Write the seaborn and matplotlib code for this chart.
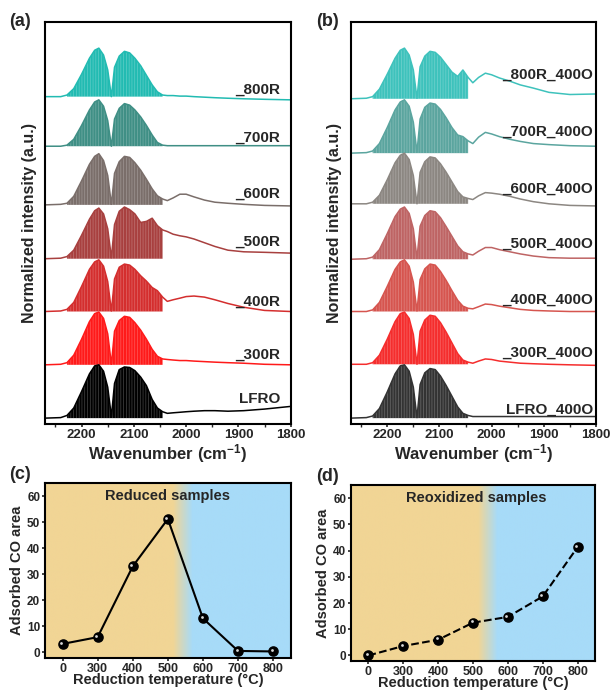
import numpy as np
import seaborn as sns
import matplotlib
matplotlib.use('Agg')
import matplotlib.pyplot as plt
from matplotlib.ticker import MultipleLocator
from matplotlib.transforms import offset_copy
from matplotlib.colors import to_rgb

sns.set_style('ticks')
plt.rcParams['font.family'] = ['Liberation Sans', 'DejaVu Sans']
plt.rcParams['font.weight'] = 'bold'
plt.rcParams['axes.labelweight'] = 'bold'
plt.rcParams['axes.linewidth'] = 1.5
plt.rcParams['axes.edgecolor'] = 'black'
plt.rcParams['mathtext.fontset'] = 'custom'
plt.rcParams['mathtext.bf'] = 'Liberation Sans:bold'
plt.rcParams['mathtext.default'] = 'bf'
plt.rcParams['hatch.linewidth'] = 0.5

# wavenumber grid (cm-1) shared by all spectra
wavenumber = [2270, 2240, 2228, 2215, 2200, 2185, 2175, 2167, 2158, 2150, 2143, 2137,
              2128, 2118, 2108, 2098, 2087, 2076, 2065, 2055, 2045, 2036, 2025, 2012,
              2000, 1985, 1965, 1945, 1920, 1890, 1850, 1800]

# (a) reduced samples, normalized intensity
lfro   = [-0.03, -0.02, 0.02, 0.16, 0.47, 0.80, 0.95, 0.97, 0.85, 0.55, 0.00, 0.62, 0.88, 0.93, 0.92, 0.86,
          0.74, 0.58, 0.32, 0.16, 0.09, 0.06, 0.07, 0.08, 0.09, 0.10, 0.11, 0.11, 0.10, 0.11, 0.14, 0.19]
r300   = [-0.03, -0.02, 0.01, 0.15, 0.45, 0.78, 0.93, 0.96, 0.84, 0.55, -0.02, 0.60, 0.80, 0.88, 0.86, 0.76,
          0.62, 0.45, 0.26, 0.13, 0.08, 0.07, 0.06, 0.05, 0.05, 0.04, 0.03, 0.02, 0.01, 0.00, -0.02, -0.03]
r400   = [-0.03, -0.02, 0.01, 0.14, 0.44, 0.76, 0.90, 0.94, 0.82, 0.53, -0.02, 0.58, 0.80, 0.86, 0.84, 0.76,
          0.64, 0.54, 0.42, 0.36, 0.24, 0.16, 0.19, 0.22, 0.25, 0.26, 0.24, 0.19, 0.12, 0.05, -0.01, -0.03]
r500   = [-0.04, -0.03, 0.00, 0.12, 0.40, 0.70, 0.86, 0.91, 0.80, 0.52, -0.02, 0.60, 0.85, 0.93, 0.88, 0.80,
          0.64, 0.66, 0.72, 0.58, 0.50, 0.47, 0.42, 0.39, 0.37, 0.33, 0.26, 0.19, 0.12, 0.09, 0.08, 0.065]
r600   = [-0.03, -0.02, 0.00, 0.13, 0.42, 0.73, 0.88, 0.93, 0.80, 0.52, -0.02, 0.56, 0.78, 0.88, 0.86, 0.76,
          0.62, 0.45, 0.27, 0.14, 0.08, 0.05, 0.10, 0.17, 0.17, 0.12, 0.06, 0.02, 0.00, -0.02, -0.04, -0.05]
r700   = [0.07, 0.07, 0.09, 0.20, 0.46, 0.75, 0.90, 0.94, 0.82, 0.55, 0.07, 0.58, 0.78, 0.87, 0.84, 0.75,
          0.62, 0.46, 0.28, 0.14, 0.09, 0.08, 0.08, 0.08, 0.08, 0.08, 0.08, 0.08, 0.08, 0.08, 0.08, 0.08]
r800   = [0.00, 0.00, 0.03, 0.15, 0.42, 0.72, 0.87, 0.91, 0.78, 0.50, 0.00, 0.55, 0.76, 0.85, 0.82, 0.72,
          0.58, 0.40, 0.22, 0.09, 0.03, 0.02, 0.02, 0.01, 0.01, 0.00, -0.01, -0.02, -0.03, -0.04, -0.05, -0.06]

# (b) reoxidized samples
lfro_o = [-0.03, -0.02, 0.01, 0.15, 0.46, 0.80, 0.95, 0.97, 0.85, 0.55, -0.02, 0.60, 0.82, 0.90, 0.88, 0.76,
          0.58, 0.38, 0.18, 0.06, 0.02, 0.00, 0.00, 0.00, 0.00, 0.00, 0.00, 0.00, 0.00, 0.00, 0.00, 0.00]
r300_o = [-0.02, -0.02, 0.01, 0.15, 0.45, 0.78, 0.93, 0.96, 0.84, 0.54, -0.02, 0.60, 0.81, 0.90, 0.88, 0.76,
          0.58, 0.38, 0.18, 0.06, 0.02, 0.00, 0.04, 0.08, 0.07, 0.04, 0.02, 0.00, -0.01, -0.02, -0.03, -0.04]
r400_o = [-0.03, -0.03, 0.00, 0.14, 0.44, 0.76, 0.90, 0.94, 0.82, 0.52, -0.02, 0.57, 0.77, 0.86, 0.84, 0.72,
          0.55, 0.36, 0.18, 0.07, 0.03, 0.02, 0.06, 0.11, 0.10, 0.07, 0.04, 0.01, -0.01, -0.02, -0.03, -0.03]
r500_o = [-0.05, -0.04, -0.01, 0.13, 0.43, 0.75, 0.89, 0.93, 0.81, 0.52, -0.03, 0.57, 0.77, 0.86, 0.84, 0.73,
          0.56, 0.38, 0.20, 0.09, 0.05, 0.03, 0.10, 0.17, 0.17, 0.13, 0.09, 0.05, 0.01, -0.02, -0.03, -0.03]
r600_o = [-0.01, -0.01, 0.02, 0.15, 0.44, 0.76, 0.90, 0.94, 0.82, 0.52, -0.01, 0.58, 0.78, 0.87, 0.85, 0.74,
          0.58, 0.40, 0.22, 0.12, 0.09, 0.07, 0.14, 0.20, 0.19, 0.17, 0.13, 0.08, 0.03, -0.01, -0.04, -0.05]
r700_o = [-0.06, -0.05, -0.02, 0.12, 0.42, 0.75, 0.90, 0.94, 0.82, 0.52, -0.04, 0.58, 0.80, 0.88, 0.86, 0.76,
          0.60, 0.42, 0.28, 0.25, 0.17, 0.12, 0.24, 0.33, 0.30, 0.25, 0.20, 0.16, 0.12, 0.10, 0.08, 0.07]
r800_o = [-0.04, -0.03, 0.00, 0.14, 0.42, 0.72, 0.87, 0.91, 0.78, 0.50, -0.03, 0.56, 0.76, 0.85, 0.83, 0.74,
          0.60, 0.46, 0.38, 0.50, 0.36, 0.26, 0.36, 0.44, 0.41, 0.35, 0.29, 0.22, 0.16, 0.08, 0.04, 0.05]

names_a = ['LFRO', '_300R', '_400R', '_500R', '_600R', '_700R', '_800R']
names_b = ['LFRO_400O', '_300R_400O', '_400R_400O', '_500R_400O', '_600R_400O', '_700R_400O', '_800R_400O']
colors_a = ['#000000', '#FF1A1A', '#D42E2E', '#A8403F', '#7A6E6A', '#3F8F85', '#22BBB2']
colors_b = ['#333333', '#F52D2D', '#D6554F', '#BE6464', '#8C8782', '#5BA59F', '#3EC2BC']
label_dy_a = [0.26, 0.08, 0.08, 0.20, 0.10, 0.16, 0.05]
label_dy_b = [0.05, 0.13, 0.11, 0.16, 0.19, 0.26, 0.34]

# (c), (d) adsorbed CO area
temps = ['0', '300', '400', '500', '600', '700', '800']
co_reduced = [3.3, 5.9, 33.1, 51.3, 13.1, 0.6, 0.4]
co_reoxidized = [0.0, 3.6, 6.0, 12.5, 14.7, 22.5, 41.3]

fig = plt.figure(figsize=(6.11, 6.90), dpi=100)
W, H = 611, 690


def box(l, t, r, b):
    return [l / W, 1 - b / H, (r - l) / W, (b - t) / H]


def spectra_panel(ax, curves, names, colors, label_dy, label_x):
    wn = np.array(wavenumber)
    band = (wn <= 2230) & (wn >= 2045)
    for i, (vals, name, c, dy) in enumerate(zip(curves, names, colors, label_dy)):
        y = np.array(vals) + i
        sns.lineplot(x=wn, y=y, ax=ax, color=c, lw=1.1)
        ax.fill_between(wn, i + vals[0], y, where=band, facecolor=c,
                        edgecolor=(1, 1, 1, 0.28), hatch='||||||', lw=0)
        ax.text(label_x, i + dy, name, ha='right', va='baseline', fontsize=11)
    ax.set_xlim(2270, 1800)
    ax.set_ylim(-0.14, 7.4)
    ax.set_yticks([])
    ax.set_xticks([2200, 2100, 2000, 1900, 1800])
    ax.xaxis.set_minor_locator(MultipleLocator(50))
    ax.tick_params(axis='x', which='major', length=2.5, width=1.2, pad=1, labelsize=9.5)
    ax.tick_params(axis='x', which='minor', length=2, width=1.0)
    ax.set_xlabel('Wavenumber (cm$^{-1}$)', fontsize=12, labelpad=1)
    ax.set_ylabel('Normalized intensity (a.u.)', fontsize=11.5, labelpad=6)
    for s in ax.spines.values():
        s.set_visible(True)
        s.set_linewidth(1.5)


def shade(ax):
    tan = np.array(to_rgb('#F1D595'))
    blue = np.array(to_rgb('#A7DBF8'))
    xs = np.linspace(-0.5, 6.5, 700)
    t = np.clip((xs - 3.15) / 0.55, 0, 1)[:, None]
    img = tan[None, :] * (1 - t) + blue[None, :] * t
    ax.imshow(img[None, :, :], extent=(-0.5, 6.5, -2, 65), aspect='auto', zorder=0)


def co_panel(ax, vals, title, ls, title_x):
    shade(ax)
    sns.pointplot(x=temps, y=vals, ax=ax, color='black', markers='o', linestyles=ls,
                  errorbar=None, markersize=6.5, linewidth=1.5)
    shine = offset_copy(ax.transData, fig=fig, x=-1.0, y=1.0, units='points')
    ax.plot(range(len(vals)), vals, 'o', ms=2, color='#d8d8d8', mec='none',
            transform=shine, zorder=10)
    ax.set_xlim(-0.5, 6.5)
    ax.set_ylim(-2, 65)
    ax.set_yticks(range(0, 61, 10))
    ax.tick_params(axis='y', length=2.5, width=1.2, pad=1, labelsize=8.5)
    ax.tick_params(axis='x', length=2.5, width=1.2, pad=1, labelsize=9)
    ax.set_xlabel('Reduction temperature (°C)', fontsize=10.5, labelpad=-1)
    ax.set_ylabel('Adsorbed CO area', fontsize=10.5, labelpad=2)
    ax.text(title_x, 60, title, ha='center', va='center', fontsize=10.5)
    for s in ax.spines.values():
        s.set_visible(True)
        s.set_linewidth(1.5)


ax_a = fig.add_axes(box(45, 22, 290.7, 424))
spectra_panel(ax_a, [lfro, r300, r400, r500, r600, r700, r800], names_a, colors_a, label_dy_a, 1820)

ax_b = fig.add_axes(box(350.7, 22, 596, 424))
spectra_panel(ax_b, [lfro_o, r300_o, r400_o, r500_o, r600_o, r700_o, r800_o], names_b, colors_b, label_dy_b, 1806)

ax_c = fig.add_axes(box(45, 483.3, 290.7, 657.7))
co_panel(ax_c, co_reduced, 'Reduced samples', '-', 3.0)

ax_d = fig.add_axes(box(351, 485, 595, 660.7))
co_panel(ax_d, co_reoxidized, 'Reoxidized samples', '--', 3.1)

for lab, x, y in [('(a)', 9, 13), ('(b)', 316, 13), ('(c)', 9, 466), ('(d)', 316, 468)]:
    fig.text(x / W, 1 - y / H, lab, fontsize=13, va='top', ha='left')

fig.savefig('out.png', dpi=100)
